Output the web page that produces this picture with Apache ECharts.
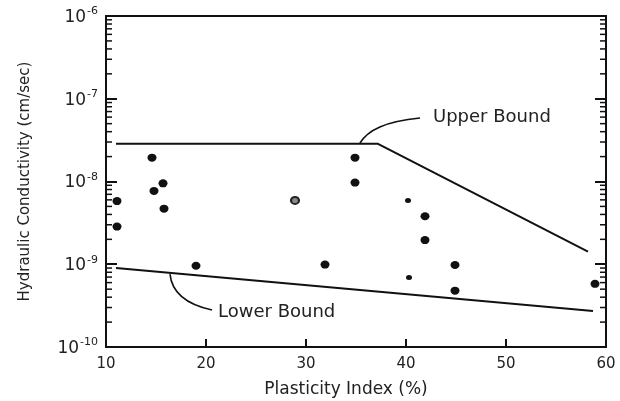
<!DOCTYPE html>
<html>
<head>
<meta charset="utf-8">
<script src="https://cdn.jsdelivr.net/npm/echarts@6/dist/echarts.min.js"></script>
<style>html,body{margin:0;padding:0;background:#fff;}#c{width:620px;height:401px;}</style>
</head>
<body>
<div id="c"></div>
<script>
// ---- data ----
const xTicks = [10, 20, 30, 40, 50, 60];
const yDecades = [-10, -9, -8, -7, -6];
// solid data points (plasticity index %, hydraulic conductivity cm/sec)
const solidPI = [11.1, 11.1, 14.6, 14.8, 15.7, 15.8, 19.0, 31.9, 34.9, 34.9, 41.9, 41.9, 44.9, 44.9, 58.9];
const solidK  = [5.8e-9, 2.85e-9, 1.94e-8, 7.7e-9, 9.5e-9, 4.7e-9, 9.6e-10, 9.9e-10, 1.94e-8, 9.7e-9, 3.8e-9, 1.96e-9, 9.8e-10, 4.8e-10, 5.8e-10];
// small solid points
const smallPI = [40.2, 40.3];
const smallK  = [5.9e-9, 6.9e-10];
// open (ring) point
const openPI = [28.9];
const openK  = [5.9e-9];
// bounds
const upperPI = [11.0, 37.2, 58.2];
const upperK  = [2.85e-8, 2.85e-8, 1.42e-9];
const lowerPI = [11.0, 58.7];
const lowerK  = [9.0e-10, 2.72e-10];
// annotation leaders (bezier: start, ctrl1, ctrl2, end) in data units
const upperLeaderPI = [35.4, 36.2, 37.9, 41.4];
const upperLeaderK  = [2.92e-8, 4.2e-8, 5.3e-8, 5.85e-8];
const lowerLeaderPI = [16.4, 16.6, 18.4, 20.6];
const lowerLeaderK  = [7.6e-10, 4.3e-10, 3.2e-10, 2.8e-10];
const labelTexts = ['Upper Bound', 'Lower Bound'];
const labelPI = [42.7, 21.2];
const labelK  = [5.96e-8, 2.65e-10];

const zip = (a, b) => a.map((v, i) => [v, b[i]]);

// minor tick values 2..9 per decade
const minorVals = [];
for (let e = -10; e < -6; e++) for (let k = 2; k <= 9; k++) minorVals.push(k * Math.pow(10, e));

const FONT = 'DejaVu Sans';
const chart = echarts.init(document.getElementById('c'), null, {renderer: 'canvas'});

function bezierSeries(pi, k) {
  return {
    type: 'custom', coordinateSystem: 'cartesian2d', clip: false, silent: true,
    data: [0],
    renderItem: function (params, api) {
      const p = pi.map((x, i) => api.coord([x, k[i]]));
      return {
        type: 'bezierCurve',
        shape: {x1: p[0][0], y1: p[0][1], cpx1: p[1][0], cpy1: p[1][1], cpx2: p[2][0], cpy2: p[2][1], x2: p[3][0], y2: p[3][1]},
        style: {stroke: '#111', lineWidth: 1.6, fill: null}
      };
    }
  };
}

const option = {
  animation: false,
  backgroundColor: '#fff',
  grid: {left: 106, right: 14, top: 16, bottom: 54, containLabel: false, outerBoundsMode: 'none',
    show: true, borderColor: '#111', borderWidth: 2, backgroundColor: 'transparent'},
  xAxis: {
    type: 'value', min: 10, max: 60, interval: 10,
    name: 'Plasticity Index (%)', nameLocation: 'middle', nameGap: 34,
    nameTextStyle: {fontFamily: FONT, fontSize: 17, color: '#222', padding: [0, 20, 0, 0]},
    axisLine: {show: true, lineStyle: {color: '#111', width: 2}},
    axisTick: {show: true, inside: true, length: 8, lineStyle: {color: '#111', width: 2}},
    axisLabel: {fontFamily: FONT, fontSize: 15, color: '#222', margin: 10,
      customValues: xTicks},
    splitLine: {show: false}
  },
  yAxis: [{
    type: 'log', logBase: 10, min: 1e-10, max: 1e-6,
    name: 'Hydraulic Conductivity (cm/sec)', nameLocation: 'middle', nameGap: 73,
    nameTextStyle: {fontFamily: FONT, fontSize: 15, color: '#222'},
    axisLine: {show: true, lineStyle: {color: '#111', width: 2}},
    axisTick: {show: true, inside: true, length: 11, lineStyle: {color: '#111', width: 2}},
    axisLabel: {
      margin: 8,
      formatter: function (v) {
        const e = Math.round(Math.log10(v));
        if (yDecades.indexOf(e) < 0) return '';
        return '{b|10}{s|' + e + '}';
      },
      rich: {
        b: {fontFamily: FONT, fontSize: 17, color: '#222', lineHeight: 20, verticalAlign: 'bottom'},
        s: {fontFamily: FONT, fontSize: 11, color: '#222', lineHeight: 20, verticalAlign: 'top', padding: [0, 0, 0, 1]}
      }
    },
    splitLine: {show: false}
  }, {
    type: 'log', logBase: 10, min: 1e-10, max: 1e-6, position: 'right',
    axisLine: {show: true, lineStyle: {color: '#111', width: 2}},
    axisTick: {show: true, inside: true, length: 11, lineStyle: {color: '#111', width: 2}},
    axisLabel: {show: false}, splitLine: {show: false}
  }],
  series: [
    {
      type: 'custom', coordinateSystem: 'cartesian2d', clip: false, silent: true,
      data: minorVals,
      renderItem: function (params, api) {
        const v = api.value(0);
        const pl = api.coord([10, v]);
        const pr = api.coord([60, v]);
        return {
          type: 'group', children: [
            {type: 'line', shape: {x1: pl[0], y1: pl[1], x2: pl[0] + 6, y2: pl[1]}, style: {stroke: '#111', lineWidth: 1.5}},
            {type: 'line', shape: {x1: pr[0], y1: pr[1], x2: pr[0] - 6, y2: pr[1]}, style: {stroke: '#111', lineWidth: 1.5}}
          ]
        };
      },
      encode: {y: 0}
    },
    {type: 'line', data: zip(upperPI, upperK), symbol: 'none', lineStyle: {color: '#111', width: 2}, silent: true},
    {type: 'line', data: zip(lowerPI, lowerK), symbol: 'none', lineStyle: {color: '#111', width: 2}, silent: true},
    {type: 'scatter', data: zip(solidPI, solidK), symbol: 'circle', symbolSize: [9, 8], itemStyle: {color: '#111', opacity: 1}},
    {type: 'scatter', data: zip(smallPI, smallK), symbol: 'circle', symbolSize: [6, 5], itemStyle: {color: '#111', opacity: 1}},
    {type: 'scatter', data: zip(openPI, openK), symbol: 'circle', symbolSize: [8, 7], itemStyle: {color: '#888', borderColor: '#222', borderWidth: 2, opacity: 1}},
    bezierSeries(upperLeaderPI, upperLeaderK),
    bezierSeries(lowerLeaderPI, lowerLeaderK),
    {
      type: 'custom', coordinateSystem: 'cartesian2d', clip: false, silent: true,
      data: labelTexts.map((t, i) => [labelPI[i], labelK[i], i]),
      renderItem: function (params, api) {
        const p = api.coord([api.value(0), api.value(1)]);
        return {
          type: 'text', x: p[0], y: p[1],
          style: {text: labelTexts[api.value(2)], fontFamily: FONT, fontSize: 18, fill: '#222', align: 'left', verticalAlign: 'middle'}
        };
      }
    }
  ]
};
chart.setOption(option);
</script>
</body>
</html>
